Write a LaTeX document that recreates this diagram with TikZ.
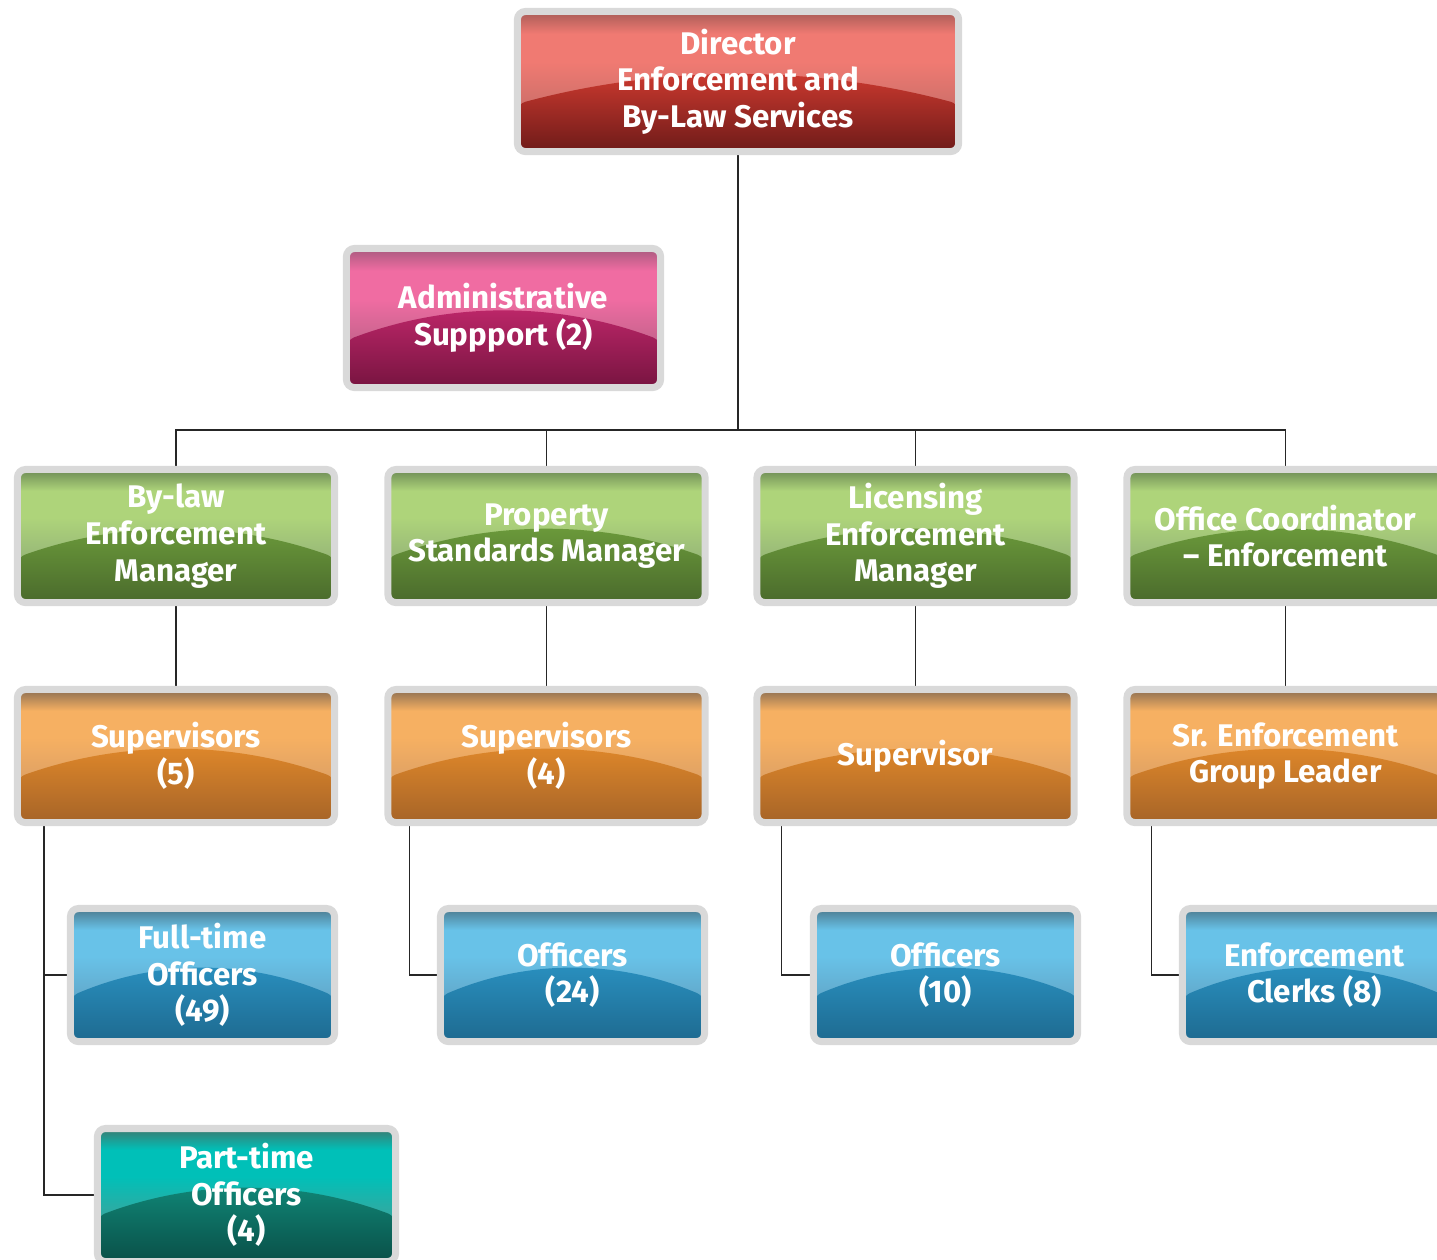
\documentclass[tikz,border=0pt]{standalone}
\usepackage{fontspec}
\setmainfont{Fira Sans}
\usepackage{tikz}
\usetikzlibrary{calc,backgrounds}

% box colours: top edge, highlight, side of arc, below arc, bottom
\definecolor{redTop}{HTML}{A85C57}
\definecolor{redHi}{HTML}{F07A72}
\definecolor{redSide}{HTML}{D0706A}
\definecolor{redLow}{HTML}{D53C31}
\definecolor{redBot}{HTML}{6E1B19}
\definecolor{pinkTop}{HTML}{A85A7E}
\definecolor{pinkHi}{HTML}{F06CA2}
\definecolor{pinkSide}{HTML}{C8648E}
\definecolor{pinkLow}{HTML}{C2286C}
\definecolor{pinkBot}{HTML}{771440}
\definecolor{greenTop}{HTML}{6C8A55}
\definecolor{greenHi}{HTML}{AED47A}
\definecolor{greenSide}{HTML}{98B878}
\definecolor{greenLow}{HTML}{6E9E3C}
\definecolor{greenBot}{HTML}{4A6A2C}
\definecolor{orangeTop}{HTML}{8C6E52}
\definecolor{orangeHi}{HTML}{F6B062}
\definecolor{orangeSide}{HTML}{E0A264}
\definecolor{orangeLow}{HTML}{E38A2A}
\definecolor{orangeBot}{HTML}{A66428}
\definecolor{blueTop}{HTML}{4C7A8E}
\definecolor{blueHi}{HTML}{68C2E8}
\definecolor{blueSide}{HTML}{62AACC}
\definecolor{blueLow}{HTML}{2A92C2}
\definecolor{blueBot}{HTML}{1E6A90}
\definecolor{tealTop}{HTML}{3C7A70}
\definecolor{tealHi}{HTML}{00C0B8}
\definecolor{tealSide}{HTML}{34A8A0}
\definecolor{tealLow}{HTML}{108A7A}
\definecolor{tealBot}{HTML}{0A5048}

\newcommand\declshades[1]{%
  \pgfdeclareverticalshading{#1up}{100bp}{color(0bp)=(#1Side); color(42bp)=(#1Side);
    color(57bp)=(#1Hi); color(67bp)=(#1Hi); color(75bp)=(#1Top); color(100bp)=(#1Top)}%
  \pgfdeclareverticalshading{#1low}{100bp}{color(0bp)=(#1Bot); color(25bp)=(#1Bot);
    color(75bp)=(#1Low); color(100bp)=(#1Low)}}
\declshades{red}
\declshades{pink}
\declshades{green}
\declshades{orange}
\declshades{blue}
\declshades{teal}

\tikzset{
  orgbox/.style={shape=rectangle, rounded corners=0.08cm, draw=black!15, line width=0.07cm,
    text=white, font=\bfseries\fontsize{8.9}{10.4}\selectfont, align=center, inner sep=0pt,
    path picture={
      \shade[shading=#1up] (path picture bounding box.north west) rectangle (path picture bounding box.south east);
      \shade[shading=#1low] let \p1=(path picture bounding box.north west), \p2=(path picture bounding box.south east) in
        (\x1,{\y1+0.66*(\y2-\y1)}) .. controls ({\x1+0.33*(\x2-\x1)},{\y1+0.38*(\y2-\y1)}) and ({\x1+0.67*(\x2-\x1)},{\y1+0.38*(\y2-\y1)}) .. (\x2,{\y1+0.66*(\y2-\y1)})
        -- (\x2,\y2) -- (\x1,\y2) -- cycle;
    }},
  rowbox/.style={orgbox=#1, minimum width=3.17cm, minimum height=1.33cm},
  staffbox/.style={orgbox=#1, minimum width=2.64cm, minimum height=1.33cm},
  conn/.style={draw=black!85, line width=0.5pt}
}

\begin{document}
\begin{tikzpicture}[x=0.01cm, y=-0.01cm]
  \useasboundingbox (0,0) rectangle (1437,1259);
  \clip (0,0) rectangle (1437,1259);
  % top
  \node[orgbox=red, minimum width=4.41cm, minimum height=1.40cm] (dir) at (738,81.5) {Director\\Enforcement and\\By-Law Services};
  \node[orgbox=pink, minimum width=3.14cm, minimum height=1.39cm] (admin) at (503.5,318) {Administrative\\Suppport (2)};
  % managers
  \node[rowbox=green] (mgrBylaw) at (176,536) {By-law\\Enforcement\\Manager};
  \node[rowbox=green] (mgrProp) at (546.5,536) {Property\\Standards Manager};
  \node[rowbox=green] (mgrLic) at (915.5,536) {Licensing\\Enforcement\\Manager};
  \node[rowbox=green] (coordOff) at (1285.5,536) {Office Coordinator\\– Enforcement};
  % supervisors
  \node[rowbox=orange] (supBylaw) at (176,756) {Supervisors\\(5)};
  \node[rowbox=orange] (supProp) at (546.5,756) {Supervisors\\(4)};
  \node[rowbox=orange] (supLic) at (915.5,756) {Supervisor};
  \node[rowbox=orange] (leadOff) at (1285.5,756) {Sr. Enforcement\\Group Leader};
  % staff
  \node[staffbox=blue] (ftOff) at (202.5,975) {Full-time\\Officers\\(49)};
  \node[staffbox=blue] (propOff) at (572.5,975) {Officers\\(24)};
  \node[staffbox=blue] (licOff) at (945.5,975) {Officers\\(10)};
  \node[staffbox=blue] (clerks) at (1314.5,975) {Enforcement\\Clerks (8)};
  \node[orgbox=teal, minimum width=2.98cm, minimum height=1.33cm] (ptOff) at (246.5,1195) {Part-time\\Officers\\(4)};

  % lines
  \begin{scope}[on background layer]
    \coordinate (bus) at (738,430);
    \draw[conn] (dir.south) -- (bus);
    \draw[conn] (mgrBylaw.north) |- (bus) -| (coordOff.north);
    \draw[conn] (mgrProp.north) -- (mgrProp.north |- bus);
    \draw[conn] (mgrLic.north) -- (mgrLic.north |- bus);
    \draw[conn] (mgrBylaw) -- (supBylaw);
    \draw[conn] (mgrProp) -- (supProp);
    \draw[conn] (mgrLic) -- (supLic);
    \draw[conn] (coordOff) -- (leadOff);
    \draw[conn] ($(supBylaw.south west)+(30,0)$) |- (ftOff.west);
    \draw[conn] ($(supBylaw.south west)+(30,0)$) |- (ptOff.west);
    \draw[conn] ($(supProp.south west)+(25,0)$) |- (propOff.west);
    \draw[conn] ($(supLic.south west)+(28,0)$) |- (licOff.west);
    \draw[conn] ($(leadOff.south west)+(28,0)$) |- (clerks.west);
  \end{scope}
\end{tikzpicture}
\end{document}
